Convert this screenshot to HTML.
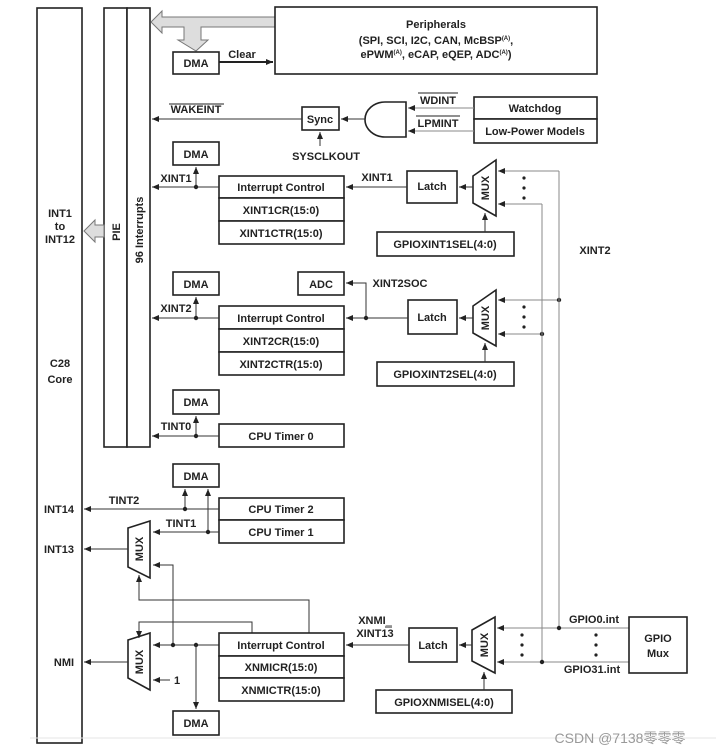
<!DOCTYPE html>
<html><head><meta charset="utf-8"><style>
html,body{margin:0;padding:0;background:#fff}
svg{display:block}
text{font-family:"Liberation Sans",Arial,sans-serif;font-weight:bold;font-size:11px;fill:#222}
.b{fill:#fff;stroke:#222;stroke-width:1.6}
.l{stroke:#333;stroke-width:1;fill:none}
.g{stroke:#888;stroke-width:1;fill:none}
</style></head><body>
<svg width="716" height="755" viewBox="0 0 716 755" xmlns="http://www.w3.org/2000/svg">
<defs>
<marker id="a" markerWidth="8" markerHeight="8" refX="7" refY="4" orient="auto" markerUnits="userSpaceOnUse"><path d="M0,1 L7,4 L0,7 z" fill="#222"/></marker>
</defs>
<rect class="b" x="37" y="8" width="45" height="735"/>
<text x="60" y="217" text-anchor="middle">INT1</text>
<text x="60" y="230" text-anchor="middle">to</text>
<text x="60" y="243" text-anchor="middle">INT12</text>
<text x="60" y="367" text-anchor="middle">C28</text>
<text x="60" y="383" text-anchor="middle">Core</text>
<text x="59" y="513" text-anchor="middle">INT14</text>
<text x="59" y="553" text-anchor="middle">INT13</text>
<text x="64" y="666" text-anchor="middle">NMI</text>
<rect class="b" x="104" y="8" width="23" height="439"/>
<rect class="b" x="127" y="8" width="23" height="439"/>
<text transform="translate(120,232) rotate(-90)" text-anchor="middle">PIE</text>
<text transform="translate(143,230) rotate(-90)" text-anchor="middle">96 Interrupts</text>
<path d="M104,225 L95,225 L95,220 L84,231 L95,242 L95,237 L104,237 z" fill="#ddd" stroke="#777"/>
<path d="M275,17 L162,17 L162,11 L151,22 L162,33 L162,27 L184,27 L184,40 L178,40 L196,51 L208,40 L201,40 L201,27 L275,27 z" fill="#ddd" stroke="#777"/>
<rect class="b" x="275" y="7" width="322" height="67"/>
<text x="436" y="28" text-anchor="middle">Peripherals</text>
<text x="436" y="44" text-anchor="middle">(SPI, SCI, I2C, CAN, McBSP<tspan font-size="6" dy="-4">(A)</tspan><tspan dy="4">,</tspan></text>
<text x="436" y="58" text-anchor="middle">ePWM<tspan font-size="6" dy="-4">(A)</tspan><tspan dy="4">, eCAP, eQEP, ADC</tspan><tspan font-size="6" dy="-4">(A)</tspan><tspan dy="4">)</tspan></text>
<rect class="b" x="173" y="52" width="46" height="22"/>
<text x="196" y="67" text-anchor="middle">DMA</text>
<line x1="219" y1="62" x2="273" y2="62" stroke="#222" stroke-width="2" marker-end="url(#a)"/>
<text x="242" y="58" text-anchor="middle">Clear</text>
<rect class="b" x="302" y="107" width="37" height="23"/>
<text x="320" y="123" text-anchor="middle">Sync</text>
<line class="l" x1="302" y1="119" x2="152" y2="119" marker-end="url(#a)"/>
<text x="196" y="113" text-anchor="middle">WAKEINT</text>
<line x1="169" y1="104" x2="224" y2="104" stroke="#222" stroke-width="1"/>
<path class="b" d="M406,102 L385,102 A20,17.5 0 0 0 385,137 L406,137 z"/>
<line class="l" x1="365" y1="119" x2="341" y2="119" marker-end="url(#a)"/>
<line class="l" x1="320" y1="146" x2="320" y2="132" marker-end="url(#a)"/>
<text x="326" y="160" text-anchor="middle">SYSCLKOUT</text>
<rect class="b" x="474" y="97" width="123" height="22"/>
<rect class="b" x="474" y="119" width="123" height="24"/>
<text x="535" y="112" text-anchor="middle">Watchdog</text>
<text x="535" y="135" text-anchor="middle">Low-Power Models</text>
<line class="g" x1="474" y1="108" x2="408" y2="108" marker-end="url(#a)"/>
<line class="g" x1="474" y1="131" x2="408" y2="131" marker-end="url(#a)"/>
<text x="438" y="104" text-anchor="middle">WDINT</text>
<line x1="418" y1="93" x2="458" y2="93" stroke="#222"/>
<text x="438" y="127" text-anchor="middle">LPMINT</text>
<line x1="416" y1="116" x2="460" y2="116" stroke="#222"/>
<rect class="b" x="173" y="142" width="46" height="23"/>
<text x="196" y="158" text-anchor="middle">DMA</text>
<rect class="b" x="219" y="176" width="125" height="22"/>
<rect class="b" x="219" y="198" width="125" height="23"/>
<rect class="b" x="219" y="221" width="125" height="23"/>
<text x="281" y="191" text-anchor="middle">Interrupt Control</text>
<text x="281" y="214" text-anchor="middle">XINT1CR(15:0)</text>
<text x="281" y="237" text-anchor="middle">XINT1CTR(15:0)</text>
<line class="l" x1="219" y1="187" x2="152" y2="187" marker-end="url(#a)"/>
<line class="l" x1="196" y1="187" x2="196" y2="167" marker-end="url(#a)"/>
<circle cx="196" cy="187" r="2.2" fill="#222"/>
<text x="176" y="182" text-anchor="middle">XINT1</text>
<rect class="b" x="407" y="171" width="50" height="32"/>
<text x="432" y="190" text-anchor="middle">Latch</text>
<line class="l" x1="407" y1="187" x2="346" y2="187" marker-end="url(#a)"/>
<text x="377" y="181" text-anchor="middle">XINT1</text>
<path class="b" d="M473,176 L496,160 L496,216 L473,203 z"/>
<text transform="translate(489,188) rotate(-90)" text-anchor="middle">MUX</text>
<line class="l" x1="473" y1="187" x2="459" y2="187" marker-end="url(#a)"/>
<line class="g" x1="559" y1="171" x2="498" y2="171" marker-end="url(#a)"/>
<line class="g" x1="542" y1="204" x2="498" y2="204" marker-end="url(#a)"/>
<circle cx="524" cy="178" r="1.6" fill="#222"/><circle cx="524" cy="188" r="1.6" fill="#222"/><circle cx="524" cy="198" r="1.6" fill="#222"/>
<rect class="b" x="377" y="232" width="137" height="24"/>
<text x="445" y="248" text-anchor="middle">GPIOXINT1SEL(4:0)</text>
<line class="l" x1="485" y1="232" x2="485" y2="213" marker-end="url(#a)"/>
<text x="595" y="254" text-anchor="middle">XINT2</text>
<rect class="b" x="173" y="272" width="46" height="23"/>
<text x="196" y="288" text-anchor="middle">DMA</text>
<rect class="b" x="298" y="272" width="46" height="23"/>
<text x="321" y="288" text-anchor="middle">ADC</text>
<rect class="b" x="219" y="306" width="125" height="23"/>
<rect class="b" x="219" y="329" width="125" height="23"/>
<rect class="b" x="219" y="352" width="125" height="23"/>
<text x="281" y="322" text-anchor="middle">Interrupt Control</text>
<text x="281" y="345" text-anchor="middle">XINT2CR(15:0)</text>
<text x="281" y="368" text-anchor="middle">XINT2CTR(15:0)</text>
<line class="l" x1="219" y1="318" x2="152" y2="318" marker-end="url(#a)"/>
<line class="l" x1="196" y1="318" x2="196" y2="297" marker-end="url(#a)"/>
<circle cx="196" cy="318" r="2.2" fill="#222"/>
<text x="176" y="312" text-anchor="middle">XINT2</text>
<rect class="b" x="408" y="300" width="49" height="34"/>
<text x="432" y="321" text-anchor="middle">Latch</text>
<line class="l" x1="408" y1="318" x2="346" y2="318" marker-end="url(#a)"/>
<polyline class="l" points="366,318 366,283 346,283" marker-end="url(#a)"/>
<circle cx="366" cy="318" r="2.2" fill="#222"/>
<text x="400" y="287" text-anchor="middle">XINT2SOC</text>
<path class="b" d="M473,306 L496,290 L496,346 L473,333 z"/>
<text transform="translate(489,318) rotate(-90)" text-anchor="middle">MUX</text>
<line class="l" x1="473" y1="318" x2="459" y2="318" marker-end="url(#a)"/>
<line class="g" x1="559" y1="300" x2="498" y2="300" marker-end="url(#a)"/>
<line class="g" x1="542" y1="334" x2="498" y2="334" marker-end="url(#a)"/>
<circle cx="524" cy="307" r="1.6" fill="#222"/><circle cx="524" cy="317" r="1.6" fill="#222"/><circle cx="524" cy="327" r="1.6" fill="#222"/>
<circle cx="559" cy="300" r="2.2" fill="#222"/><circle cx="542" cy="334" r="2.2" fill="#222"/>
<rect class="b" x="377" y="362" width="137" height="24"/>
<text x="445" y="378" text-anchor="middle">GPIOXINT2SEL(4:0)</text>
<line class="l" x1="485" y1="362" x2="485" y2="343" marker-end="url(#a)"/>
<line class="g" x1="559" y1="171" x2="559" y2="628"/>
<line class="g" x1="542" y1="204" x2="542" y2="662"/>
<rect class="b" x="173" y="390" width="46" height="24"/>
<text x="196" y="406" text-anchor="middle">DMA</text>
<rect class="b" x="219" y="424" width="125" height="23"/>
<text x="281" y="440" text-anchor="middle">CPU Timer 0</text>
<line class="l" x1="219" y1="436" x2="152" y2="436" marker-end="url(#a)"/>
<line class="l" x1="196" y1="436" x2="196" y2="416" marker-end="url(#a)"/>
<circle cx="196" cy="436" r="2.2" fill="#222"/>
<text x="176" y="430" text-anchor="middle">TINT0</text>
<rect class="b" x="173" y="464" width="46" height="23"/>
<text x="196" y="480" text-anchor="middle">DMA</text>
<rect class="b" x="219" y="498" width="125" height="22"/>
<rect class="b" x="219" y="520" width="125" height="23"/>
<text x="281" y="513" text-anchor="middle">CPU Timer 2</text>
<text x="281" y="536" text-anchor="middle">CPU Timer 1</text>
<line class="l" x1="219" y1="509" x2="84" y2="509" marker-end="url(#a)"/>
<line class="l" x1="185" y1="509" x2="185" y2="489" marker-end="url(#a)"/>
<circle cx="185" cy="509" r="2.2" fill="#222"/>
<text x="124" y="504" text-anchor="middle">TINT2</text>
<line class="l" x1="219" y1="532" x2="153" y2="532" marker-end="url(#a)"/>
<line class="l" x1="208" y1="532" x2="208" y2="489" marker-end="url(#a)"/>
<circle cx="208" cy="532" r="2.2" fill="#222"/>
<text x="181" y="527" text-anchor="middle">TINT1</text>
<path class="b" d="M128,528 L150,521 L150,578 L128,567 z"/>
<text transform="translate(143,549) rotate(-90)" text-anchor="middle">MUX</text>
<line class="l" x1="128" y1="549" x2="84" y2="549" marker-end="url(#a)"/>
<polyline class="l" points="173,645 173,565 153,565" marker-end="url(#a)"/>
<polyline class="l" points="309,633 309,600 139,600 139,575" marker-end="url(#a)"/>
<path class="b" d="M128,640 L150,633 L150,690 L128,678 z"/>
<text transform="translate(143,662) rotate(-90)" text-anchor="middle">MUX</text>
<line class="l" x1="128" y1="662" x2="84" y2="662" marker-end="url(#a)"/>
<polyline class="l" points="252,633 252,622 139,622 139,638" marker-end="url(#a)"/>
<line class="l" x1="219" y1="645" x2="153" y2="645" marker-end="url(#a)"/>
<circle cx="173" cy="645" r="2.2" fill="#222"/>
<circle cx="196" cy="645" r="2.2" fill="#222"/>
<line class="l" x1="196" y1="645" x2="196" y2="709" marker-end="url(#a)"/>
<line class="l" x1="170" y1="680" x2="153" y2="680" marker-end="url(#a)"/>
<text x="177" y="684" text-anchor="middle">1</text>
<rect class="b" x="219" y="633" width="125" height="23"/>
<rect class="b" x="219" y="656" width="125" height="22"/>
<rect class="b" x="219" y="678" width="125" height="23"/>
<text x="281" y="649" text-anchor="middle">Interrupt Control</text>
<text x="281" y="671" text-anchor="middle">XNMICR(15:0)</text>
<text x="281" y="694" text-anchor="middle">XNMICTR(15:0)</text>
<rect class="b" x="173" y="711" width="46" height="24"/>
<text x="196" y="727" text-anchor="middle">DMA</text>
<text x="375" y="624" text-anchor="middle">XNMI_</text>
<text x="375" y="637" text-anchor="middle">XINT13</text>
<line x1="385" y1="627" x2="392" y2="627" stroke="#222"/>
<rect class="b" x="409" y="628" width="48" height="34"/>
<text x="433" y="649" text-anchor="middle">Latch</text>
<line class="l" x1="409" y1="645" x2="346" y2="645" marker-end="url(#a)"/>
<path class="b" d="M472,630 L495,617 L495,673 L472,661 z"/>
<text transform="translate(488,645) rotate(-90)" text-anchor="middle">MUX</text>
<line class="l" x1="472" y1="645" x2="459" y2="645" marker-end="url(#a)"/>
<line class="g" x1="629" y1="628" x2="497" y2="628" marker-end="url(#a)"/>
<line class="g" x1="629" y1="662" x2="497" y2="662" marker-end="url(#a)"/>
<circle cx="559" cy="628" r="2.2" fill="#222"/><circle cx="542" cy="662" r="2.2" fill="#222"/>
<circle cx="522" cy="635" r="1.6" fill="#222"/><circle cx="522" cy="645" r="1.6" fill="#222"/><circle cx="522" cy="655" r="1.6" fill="#222"/>
<circle cx="596" cy="635" r="1.6" fill="#222"/><circle cx="596" cy="645" r="1.6" fill="#222"/><circle cx="596" cy="655" r="1.6" fill="#222"/>
<text x="594" y="623" text-anchor="middle">GPIO0.int</text>
<text x="592" y="673" text-anchor="middle">GPIO31.int</text>
<rect class="b" x="629" y="617" width="58" height="56"/>
<text x="658" y="642" text-anchor="middle">GPIO</text>
<text x="658" y="657" text-anchor="middle">Mux</text>
<rect class="b" x="376" y="690" width="136" height="23"/>
<text x="444" y="706" text-anchor="middle">GPIOXNMISEL(4:0)</text>
<line class="l" x1="484" y1="690" x2="484" y2="672" marker-end="url(#a)"/>
<line x1="30" y1="738" x2="716" y2="738" stroke="#e4e4e4"/>
<text x="620" y="743" text-anchor="middle" style="font-weight:normal;font-size:14px;fill:#999;font-family:'Liberation Sans','Noto Sans CJK SC',sans-serif">CSDN @7138零零零</text>
</svg>
</body></html>
